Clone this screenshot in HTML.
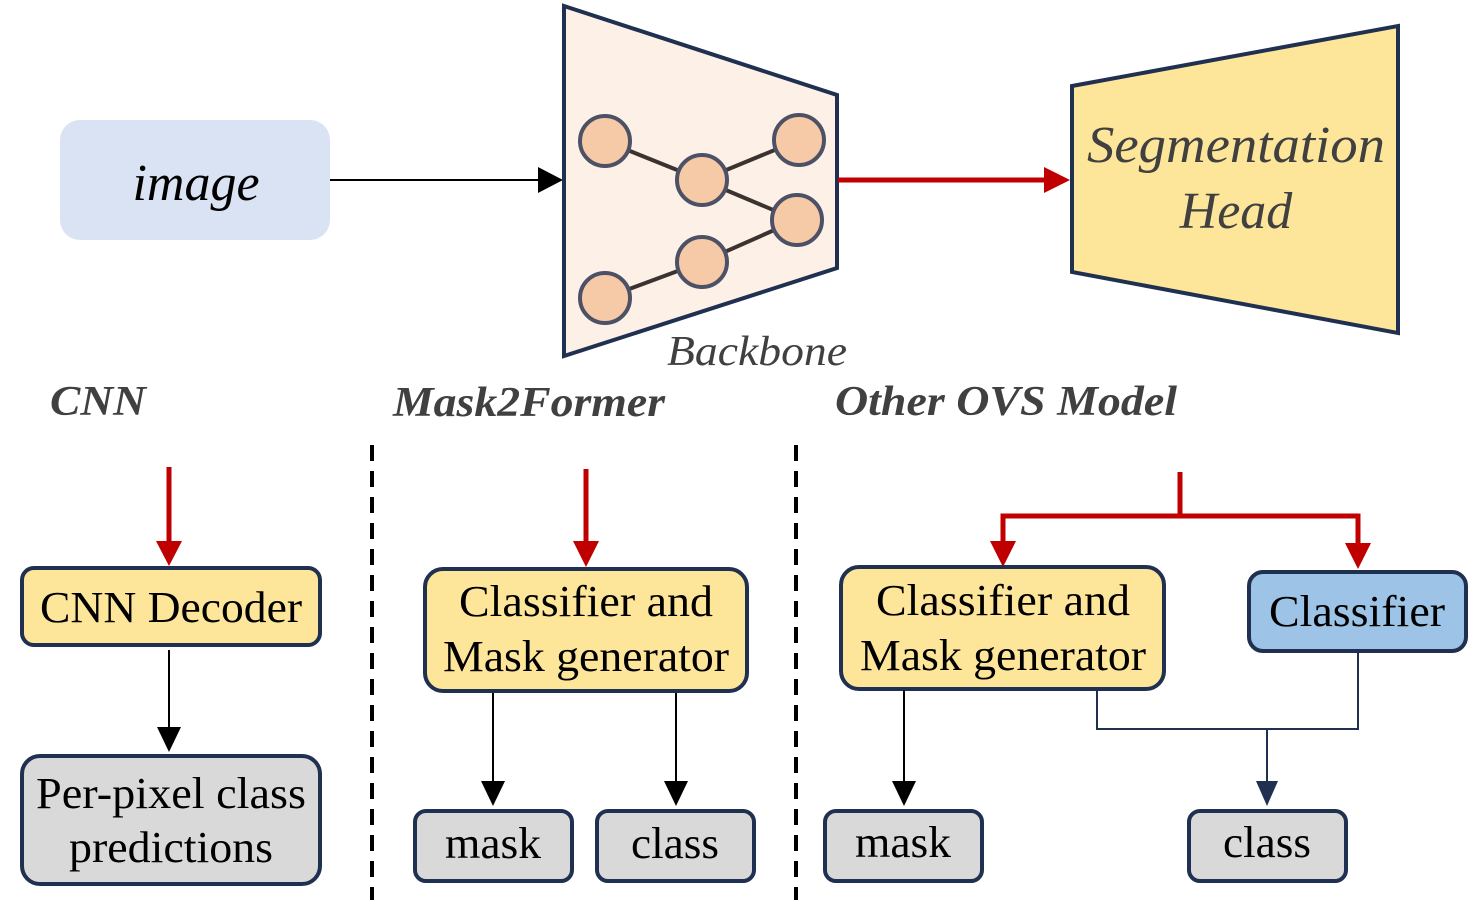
<!DOCTYPE html>
<html><head><meta charset="utf-8"><style>
html,body{margin:0;padding:0;background:#fff;}
svg{display:block;}
svg text{font-family:"Liberation Serif","Times New Roman","DejaVu Serif",serif !important;}
</style></head><body>
<svg width="1481" height="903" viewBox="0 0 1481 903" xmlns="http://www.w3.org/2000/svg" font-family="'Liberation Serif','Times New Roman','DejaVu Serif',serif">
<rect x="60" y="120" width="270" height="120" rx="20" fill="#dae3f3"/>
<text x="196" y="200" font-size="52" font-style="italic" text-anchor="middle" fill="#000">image</text>
<line x1="330" y1="180" x2="540" y2="180" stroke="#000" stroke-width="2"/>
<polygon points="538,167 563,180 538,193" fill="#000"/>

<polygon points="564,6 837,95 837,268 564,356" fill="#fdf0e7" stroke="#1f3050" stroke-width="4"/>
<g stroke="#3a3330" stroke-width="4">
<line x1="605" y1="141" x2="702" y2="180"/>
<line x1="702" y1="180" x2="799" y2="140"/>
<line x1="702" y1="180" x2="797" y2="220"/>
<line x1="797" y1="220" x2="702" y2="262"/>
<line x1="702" y1="262" x2="605" y2="298"/>
</g>
<g fill="#f7caa7" stroke="#4d5166" stroke-width="4">
<circle cx="605" cy="141" r="25"/>
<circle cx="702" cy="180" r="25"/>
<circle cx="799" cy="140" r="25"/>
<circle cx="797" cy="220" r="25"/>
<circle cx="702" cy="262" r="25"/>
<circle cx="605" cy="298" r="25"/>
</g>
<text x="757" y="365" font-size="42" font-style="italic" text-anchor="middle" fill="#404040" textLength="180" lengthAdjust="spacingAndGlyphs">Backbone</text>

<line x1="838" y1="180" x2="1046" y2="180" stroke="#c00000" stroke-width="5"/>
<polygon points="1044,167 1070,180 1044,193" fill="#c00000"/>

<polygon points="1072,86 1398,26 1398,333 1072,272" fill="#fde59a" stroke="#1f3050" stroke-width="4"/>
<text x="1236" y="162" font-size="52" font-style="italic" text-anchor="middle" fill="#404040" textLength="298" lengthAdjust="spacingAndGlyphs">Segmentation</text>
<text x="1236" y="228" font-size="52" font-style="italic" text-anchor="middle" fill="#404040">Head</text>

<g font-size="42" font-style="italic" font-weight="bold" fill="#404040">
<text x="50" y="415" textLength="96" lengthAdjust="spacingAndGlyphs">CNN</text>
<text x="393" y="416" textLength="272" lengthAdjust="spacingAndGlyphs">Mask2Former</text>
<text x="835" y="415" textLength="342" lengthAdjust="spacingAndGlyphs">Other OVS Model</text>
</g>

<line x1="372" y1="445" x2="372" y2="900" stroke="#000" stroke-width="4" stroke-dasharray="16,10"/>
<line x1="796" y1="445" x2="796" y2="900" stroke="#000" stroke-width="4" stroke-dasharray="16,10"/>

<line x1="169" y1="467" x2="169" y2="545" stroke="#c00000" stroke-width="5"/>
<polygon points="156,541 169,566 182,541" fill="#c00000"/>
<rect x="22" y="568" width="298" height="77" rx="12" fill="#fde59a" stroke="#1f3050" stroke-width="4"/>
<text x="171" y="622" font-size="44" text-anchor="middle" textLength="262" lengthAdjust="spacingAndGlyphs">CNN Decoder</text>
<line x1="169" y1="650" x2="169" y2="730" stroke="#000" stroke-width="2"/>
<polygon points="157,727 169,752 181,727" fill="#000"/>
<rect x="22" y="756" width="298" height="128" rx="18" fill="#d9d9d9" stroke="#1f3050" stroke-width="4"/>
<text x="171" y="808" font-size="44" text-anchor="middle" textLength="270" lengthAdjust="spacingAndGlyphs">Per-pixel class</text>
<text x="171" y="862" font-size="44" text-anchor="middle" textLength="204" lengthAdjust="spacingAndGlyphs">predictions</text>

<line x1="586" y1="469" x2="586" y2="545" stroke="#c00000" stroke-width="5"/>
<polygon points="573,541 586,567 599,541" fill="#c00000"/>
<rect x="425" y="569" width="322" height="122" rx="18" fill="#fde59a" stroke="#1f3050" stroke-width="4"/>
<text x="586" y="616" font-size="44" text-anchor="middle" textLength="254" lengthAdjust="spacingAndGlyphs">Classifier and</text>
<text x="586" y="671" font-size="44" text-anchor="middle" textLength="286" lengthAdjust="spacingAndGlyphs">Mask generator</text>
<line x1="493" y1="693" x2="493" y2="785" stroke="#000" stroke-width="2"/>
<polygon points="481,781 493,806 505,781" fill="#000"/>
<line x1="676" y1="693" x2="676" y2="785" stroke="#000" stroke-width="2"/>
<polygon points="664,781 676,806 688,781" fill="#000"/>
<rect x="415" y="811" width="157" height="70" rx="11" fill="#d9d9d9" stroke="#1f3050" stroke-width="4"/>
<text x="493" y="858" font-size="44" text-anchor="middle" textLength="96" lengthAdjust="spacingAndGlyphs">mask</text>
<rect x="597" y="811" width="157" height="70" rx="11" fill="#d9d9d9" stroke="#1f3050" stroke-width="4"/>
<text x="675" y="858" font-size="44" text-anchor="middle" textLength="88" lengthAdjust="spacingAndGlyphs">class</text>

<polyline points="1180,472 1180,516" fill="none" stroke="#c00000" stroke-width="5"/>
<polyline points="1003,545 1003,516 1358,516 1358,545" fill="none" stroke="#c00000" stroke-width="5"/>
<polygon points="990,541 1003,567 1016,541" fill="#c00000"/>
<polygon points="1345,543 1358,569 1371,543" fill="#c00000"/>
<rect x="841" y="567" width="323" height="122" rx="18" fill="#fde59a" stroke="#1f3050" stroke-width="4"/>
<text x="1003" y="615" font-size="44" text-anchor="middle" textLength="254" lengthAdjust="spacingAndGlyphs">Classifier and</text>
<text x="1003" y="670" font-size="44" text-anchor="middle" textLength="286" lengthAdjust="spacingAndGlyphs">Mask generator</text>
<rect x="1249" y="572" width="217" height="79" rx="14" fill="#9dc3e6" stroke="#1f3050" stroke-width="4"/>
<text x="1357" y="626" font-size="44" text-anchor="middle" textLength="176" lengthAdjust="spacingAndGlyphs">Classifier</text>
<line x1="904" y1="690" x2="904" y2="785" stroke="#000" stroke-width="2"/>
<polygon points="892,781 904,806 916,781" fill="#000"/>
<polyline points="1097,690 1097,729 1358,729 1358,651" fill="none" stroke="#1f3050" stroke-width="2"/>
<line x1="1267" y1="729" x2="1267" y2="785" stroke="#1f3050" stroke-width="2"/>
<polygon points="1256,781 1267,806 1278,781" fill="#1f3050"/>
<rect x="825" y="811" width="157" height="70" rx="11" fill="#d9d9d9" stroke="#1f3050" stroke-width="4"/>
<text x="903" y="857" font-size="44" text-anchor="middle" textLength="96" lengthAdjust="spacingAndGlyphs">mask</text>
<rect x="1189" y="811" width="157" height="70" rx="11" fill="#d9d9d9" stroke="#1f3050" stroke-width="4"/>
<text x="1267" y="857" font-size="44" text-anchor="middle" textLength="88" lengthAdjust="spacingAndGlyphs">class</text>
</svg>
</body></html>
